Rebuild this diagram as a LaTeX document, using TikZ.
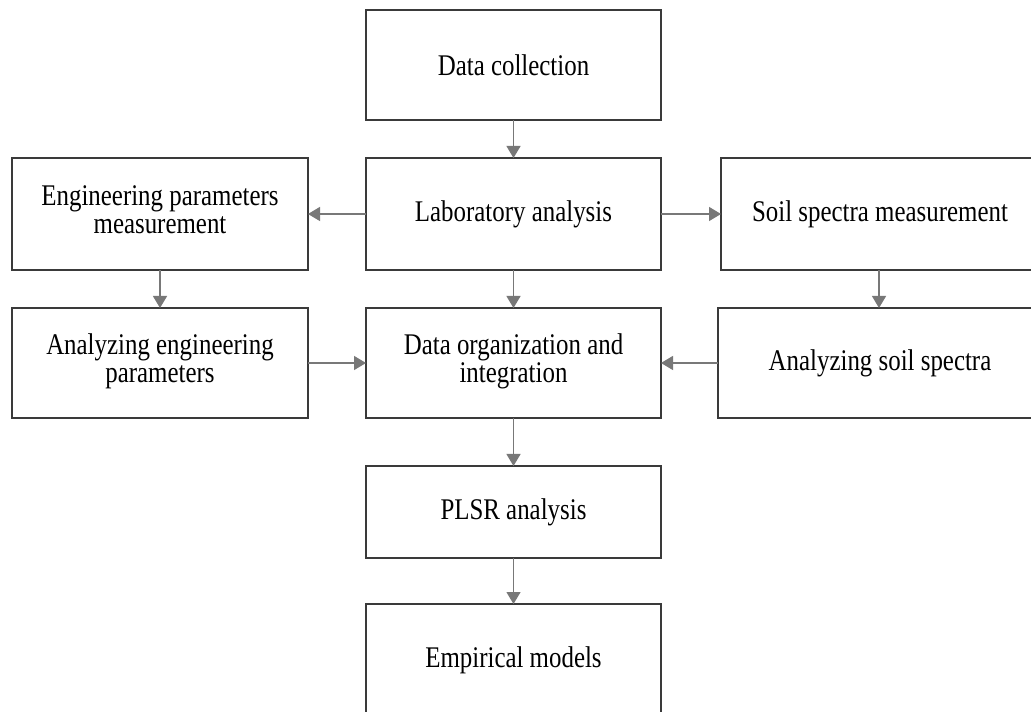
\documentclass[tikz,border=0pt]{standalone}
\usepackage{fontspec}
\setmainfont{Liberation Serif}[FakeStretch=0.83]
\usetikzlibrary{arrows.meta}
\definecolor{boxline}{HTML}{3A3A3A}
\definecolor{arrowcol}{HTML}{787878}
\tikzset{
  px/.style={x=0.75pt,y=-0.75pt},
  flowbox/.style={draw=boxline,line width=0.9pt},
  boxtext/.style={align=center,font=\fontsize{22.5pt}{21pt}\selectfont,inner sep=0pt},
  flowarrow/.style={draw=arrowcol,line width=0.9pt,-{Triangle[length=9pt,width=10.5pt]}}
}
\begin{document}
\begin{tikzpicture}[px]
\clip (0,0) rectangle (1031,712);
\fill[white] (0,0) rectangle (1031,712);
% boxes
\draw[flowbox] (366,10) rectangle (661,120);
\node[boxtext] (dc) at (513.5,65) {Data collection};
\coordinate (dcS) at (513.5,120);

\draw[flowbox] (366,158) rectangle (661,270);
\node[boxtext] (lab) at (513.5,214) {Laboratory analysis};
\coordinate (labN) at (513.5,158);
\coordinate (labS) at (513.5,270);
\coordinate (labW) at (366,214);
\coordinate (labE) at (661,214);

\draw[flowbox] (12,158) rectangle (308,270);
\node[boxtext] (eng) at (160,210) {Engineering parameters\\measurement};
\coordinate (engE) at (308,214);
\coordinate (engS) at (160,270);

\draw[flowbox] (721,158) rectangle (1039,270);
\node[boxtext] (soil) at (880,214) {Soil spectra measurement};
\coordinate (soilW) at (721,214);
\coordinate (soilS) at (879,270);

\draw[flowbox] (12,308) rectangle (308,418);
\node[boxtext] (aneng) at (160,361) {Analyzing engineering\\parameters};
\coordinate (anengN) at (160,308);
\coordinate (anengE) at (308,363);

\draw[flowbox] (366,308) rectangle (661,418);
\node[boxtext] (org) at (513.5,361) {Data organization and\\integration};
\coordinate (orgN) at (513.5,308);
\coordinate (orgS) at (513.5,418);
\coordinate (orgW) at (366,363);
\coordinate (orgE) at (661,363);

\draw[flowbox] (718,308) rectangle (1042,418);
\node[boxtext] (ansoil) at (880,363) {Analyzing soil spectra};
\coordinate (ansoilN) at (879,308);
\coordinate (ansoilW) at (718,363);

\draw[flowbox] (366,466) rectangle (661,558);
\node[boxtext] (plsr) at (513.5,512) {PLSR analysis};
\coordinate (plsrN) at (513.5,466);
\coordinate (plsrS) at (513.5,558);

\draw[flowbox] (366,604) rectangle (661,714);
\node[boxtext] (emp) at (513.5,660) {Empirical models};
\coordinate (empN) at (513.5,604);

% arrows
\draw[flowarrow] (dcS) -- (labN);
\draw[flowarrow] (labW) -- (engE);
\draw[flowarrow] (labE) -- (soilW);
\draw[flowarrow] (engS) -- (anengN);
\draw[flowarrow] (soilS) -- (ansoilN);
\draw[flowarrow] (labS) -- (orgN);
\draw[flowarrow] (anengE) -- (orgW);
\draw[flowarrow] (ansoilW) -- (orgE);
\draw[flowarrow] (orgS) -- (plsrN);
\draw[flowarrow] (plsrS) -- (empN);
\end{tikzpicture}
\end{document}
